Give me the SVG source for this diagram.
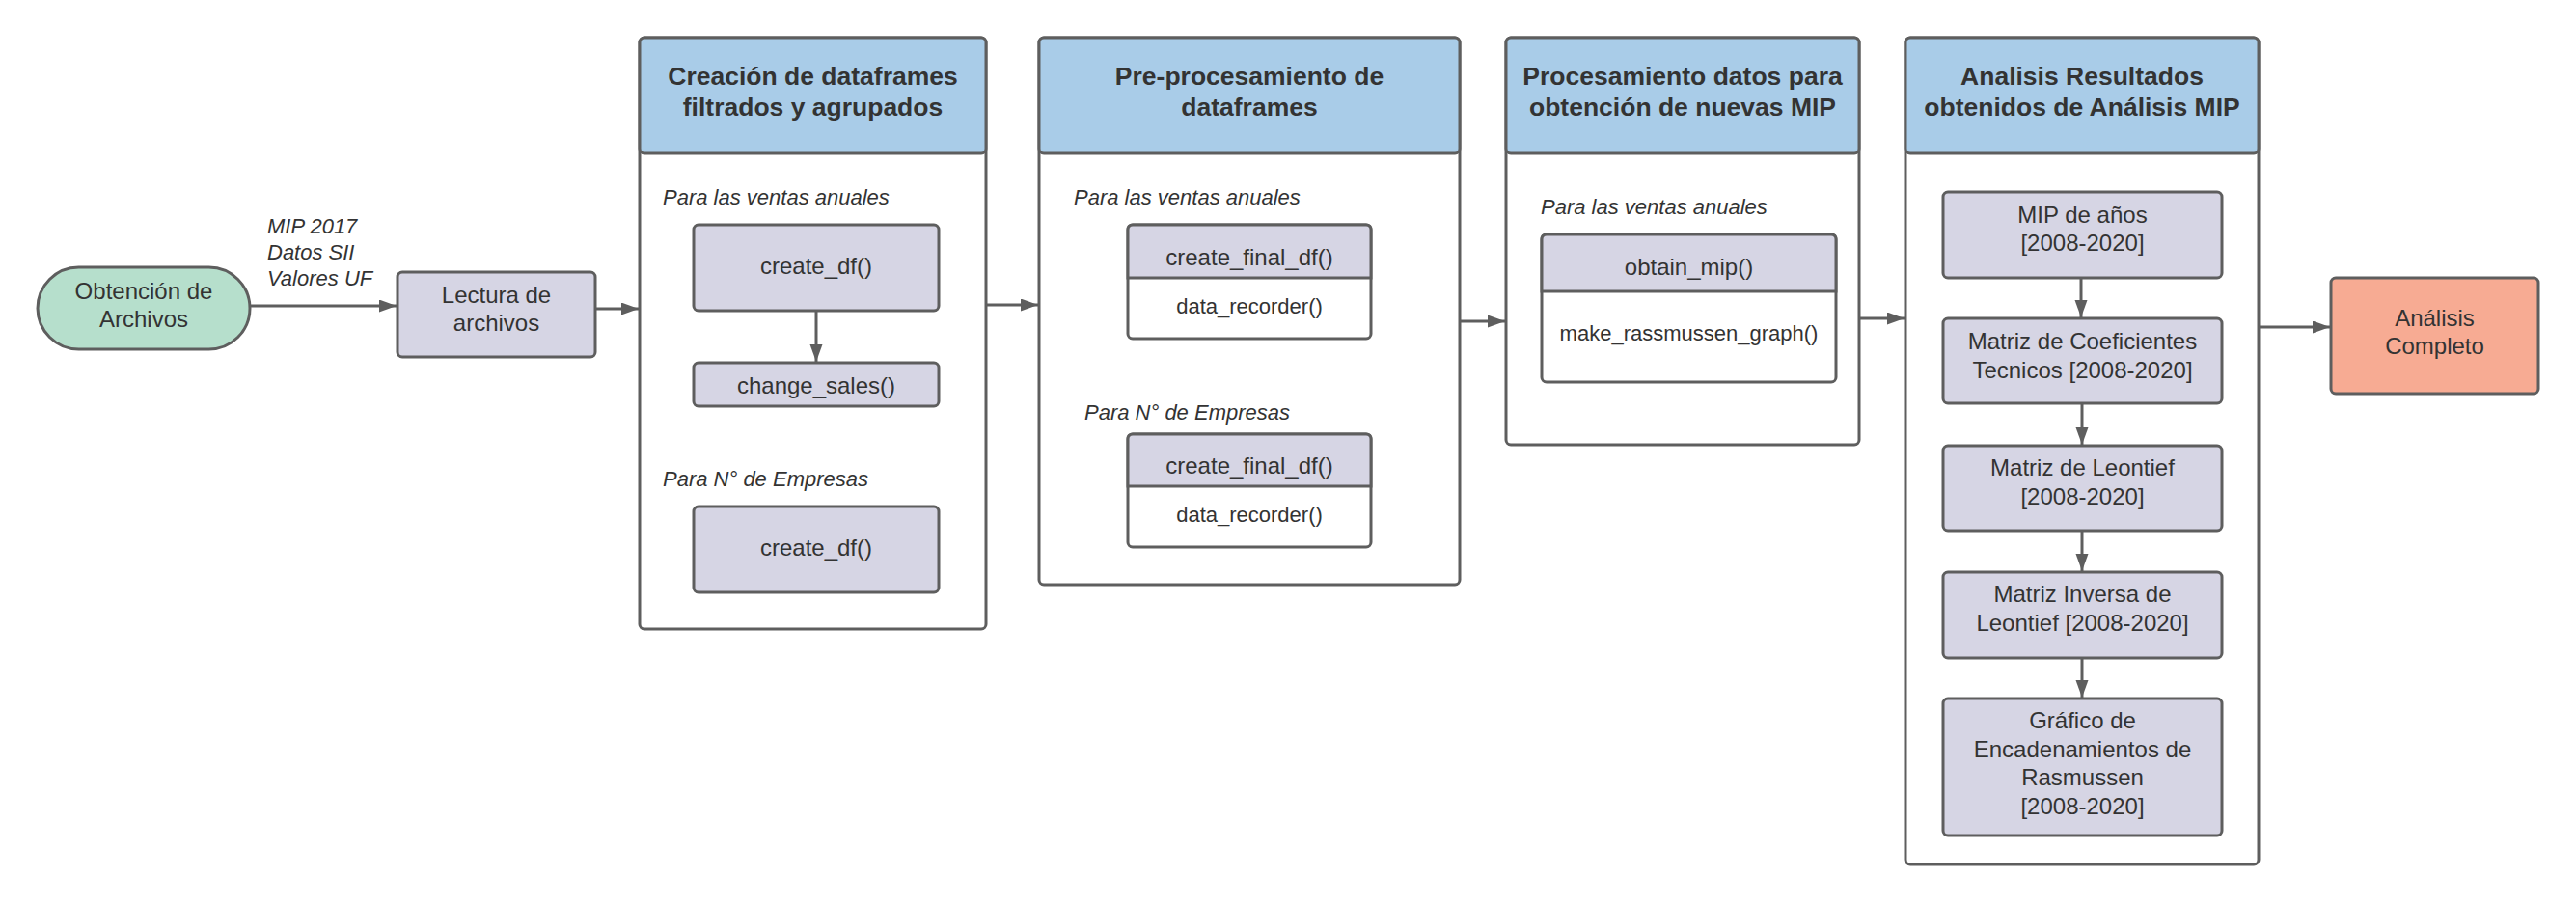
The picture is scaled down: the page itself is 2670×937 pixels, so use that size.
<svg xmlns="http://www.w3.org/2000/svg" width="2670" height="937" viewBox="0 0 2670 937">
<style>
.bx{stroke:#5e5e5e;stroke-width:3;}
.lav{fill:#d6d5e4;}
.wh{fill:#ffffff;}
.blue{fill:#a9cce8;}
.green{fill:#b6dfcc;}
.salmon{fill:#f7ab93;}
text{font-family:"Liberation Sans",Arial,sans-serif;fill:#333333;}
.t24{font-size:24px;text-anchor:middle;}
.t22{font-size:22px;text-anchor:middle;}
.hd{font-size:26.5px;font-weight:bold;text-anchor:middle;}
.it{font-size:22px;font-style:italic;}
.cn{stroke:#5e5e5e;stroke-width:3;fill:none;marker-end:url(#ah);}
</style>
<defs>
<marker id="ah" markerUnits="userSpaceOnUse" markerWidth="20" markerHeight="14" refX="18" refY="6.5" orient="auto">
<path d="M0,0 L18,6.5 L0,13 Z" fill="#5e5e5e"/>
</marker>
</defs>
<rect width="2670" height="937" fill="#ffffff"/>

<g id="obtencion">
<rect class="bx green" x="39" y="277" width="220" height="85" rx="42.5"/>
<text class="t24" x="149" y="310">Obtención de</text>
<text class="t24" x="149" y="339">Archivos</text>
</g>

<g id="lectura">
<rect class="bx lav" x="412" y="282" width="205" height="88" rx="5"/>
<text class="t24" x="514.5" y="314">Lectura de</text>
<text class="t24" x="514.5" y="343">archivos</text>
</g>

<g id="creacion">
<rect class="bx wh" x="663" y="39" width="359" height="613" rx="5"/>
<rect class="bx blue" x="663" y="39" width="359" height="120" rx="5"/>
<text class="hd" x="842.5" y="88">Creación de dataframes</text>
<text class="hd" x="842.5" y="120">filtrados y agrupados</text>
<text class="it" x="687" y="212">Para las ventas anuales</text>
<text class="it" x="687" y="504">Para N° de Empresas</text>
</g>
<g id="create_df_1">
<rect class="bx lav" x="719" y="233" width="254" height="89" rx="5"/>
<text class="t24" x="846" y="284">create_df()</text>
</g>
<g id="change_sales">
<rect class="bx lav" x="719" y="376" width="254" height="45" rx="5"/>
<text class="t24" x="846" y="408">change_sales()</text>
</g>
<g id="create_df_2">
<rect class="bx lav" x="719" y="525" width="254" height="89" rx="5"/>
<text class="t24" x="846" y="576">create_df()</text>
</g>

<g id="preprocesamiento">
<rect class="bx wh" x="1077" y="39" width="436" height="567" rx="5"/>
<rect class="bx blue" x="1077" y="39" width="436" height="120" rx="5"/>
<text class="hd" x="1295" y="88">Pre-procesamiento de</text>
<text class="hd" x="1295" y="120">dataframes</text>
<text class="it" x="1113" y="212">Para las ventas anuales</text>
<text class="it" x="1124" y="435">Para N° de Empresas</text>
</g>
<g id="final_df_1">
<rect class="bx wh" x="1169" y="233" width="252" height="118" rx="5"/>
<path class="bx lav" d="M1169,288 L1169,238 Q1169,233 1174,233 L1416,233 Q1421,233 1421,238 L1421,288 Z"/>
<text class="t24" x="1295" y="275">create_final_df()</text>
<text class="t22" x="1295" y="325">data_recorder()</text>
</g>
<g id="final_df_2">
<rect class="bx wh" x="1169" y="450" width="252" height="117" rx="5"/>
<path class="bx lav" d="M1169,504 L1169,455 Q1169,450 1174,450 L1416,450 Q1421,450 1421,455 L1421,504 Z"/>
<text class="t24" x="1295" y="491">create_final_df()</text>
<text class="t22" x="1295" y="541">data_recorder()</text>
</g>

<g id="procesamiento">
<rect class="bx wh" x="1561" y="39" width="366" height="422" rx="5"/>
<rect class="bx blue" x="1561" y="39" width="366" height="120" rx="5"/>
<text class="hd" x="1744" y="88">Procesamiento datos para</text>
<text class="hd" x="1744" y="120">obtención de nuevas MIP</text>
<text class="it" x="1597" y="222">Para las ventas anuales</text>
</g>
<g id="obtain_mip">
<rect class="bx wh" x="1598" y="243" width="305" height="153" rx="5"/>
<path class="bx lav" d="M1598,302 L1598,248 Q1598,243 1603,243 L1898,243 Q1903,243 1903,248 L1903,302 Z"/>
<text class="t24" x="1750.5" y="285">obtain_mip()</text>
<text class="t22" x="1750.5" y="353">make_rassmussen_graph()</text>
</g>

<g id="analisis">
<rect class="bx wh" x="1975" y="39" width="366" height="857" rx="5"/>
<rect class="bx blue" x="1975" y="39" width="366" height="120" rx="5"/>
<text class="hd" x="2158" y="88">Analisis Resultados</text>
<text class="hd" x="2158" y="120">obtenidos de Análisis MIP</text>
</g>
<g id="mip_anos">
<rect class="bx lav" x="2014" y="199" width="289" height="89" rx="5"/>
<text class="t24" x="2158.5" y="231">MIP de años</text>
<text class="t24" x="2158.5" y="260">[2008-2020]</text>
</g>
<g id="coeficientes">
<rect class="bx lav" x="2014" y="330" width="289" height="88" rx="5"/>
<text class="t24" x="2158.5" y="362">Matriz de Coeficientes</text>
<text class="t24" x="2158.5" y="392">Tecnicos [2008-2020]</text>
</g>
<g id="leontief">
<rect class="bx lav" x="2014" y="462" width="289" height="88" rx="5"/>
<text class="t24" x="2158.5" y="493">Matriz de Leontief</text>
<text class="t24" x="2158.5" y="523">[2008-2020]</text>
</g>
<g id="inversa">
<rect class="bx lav" x="2014" y="593" width="289" height="89" rx="5"/>
<text class="t24" x="2158.5" y="624">Matriz Inversa de</text>
<text class="t24" x="2158.5" y="654">Leontief [2008-2020]</text>
</g>
<g id="grafico">
<rect class="bx lav" x="2014" y="724" width="289" height="142" rx="5"/>
<text class="t24" x="2158.5" y="755">Gráfico de</text>
<text class="t24" x="2158.5" y="785">Encadenamientos de</text>
<text class="t24" x="2158.5" y="814">Rasmussen</text>
<text class="t24" x="2158.5" y="844">[2008-2020]</text>
</g>

<g id="completo">
<rect class="bx salmon" x="2416" y="288" width="215" height="120" rx="5"/>
<text class="t24" x="2523.5" y="338">Análisis</text>
<text class="t24" x="2523.5" y="367">Completo</text>
</g>

<g id="connectors">
<path class="cn" d="M259,317 L411,317"/>
<path class="cn" d="M617,320 L662,320"/>
<path class="cn" d="M1022,316 L1076,316"/>
<path class="cn" d="M1513,333 L1560,333"/>
<path class="cn" d="M1927,330 L1974,330"/>
<path class="cn" d="M2341,339 L2415,339"/>
<path class="cn" d="M846,322 L846,375"/>
<path class="cn" d="M2157,288 L2157,329"/>
<path class="cn" d="M2158,418 L2158,461"/>
<path class="cn" d="M2158,550 L2158,592"/>
<path class="cn" d="M2158,682 L2158,723"/>
<text class="it" x="277" y="242">MIP 2017</text>
<text class="it" x="277" y="269">Datos SII</text>
<text class="it" x="277" y="296">Valores UF</text>
</g>
</svg>
